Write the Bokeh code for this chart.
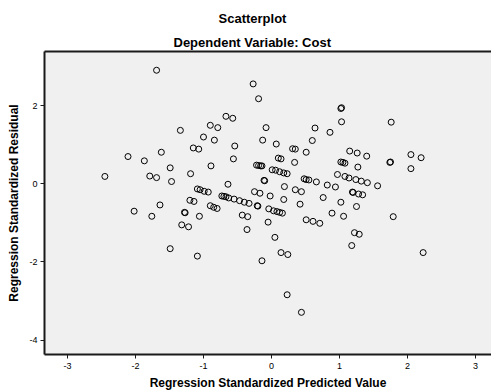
import math
from bokeh.plotting import figure
from bokeh.models import ColumnDataSource, Title, LinearAxis, FixedTicker, Range1d
from bokeh.embed import file_html
from bokeh.resources import INLINE

# Regression standardized predicted value (x) and residual (y)
pred = [
    -1.69, -1.34, -1.15, -1.07, -2.11, -1.62, -1.87, -1.49, -1.19, -2.45, -1.79, -1.69, -1.47,
    -1.09, -1.05, -0.99, -0.93, -1.20, -1.14, -1.64, -2.02, -1.76, -1.28, -1.27, -1.06,
    -1.32, -1.22, -1.49, -1.09,
    -0.27, -0.19, -0.67, -0.57, -0.90, -0.79, -0.08, -1.00, -0.84, -0.13, 0.07, -0.54,
    0.31, 0.35, -0.56, 0.10, 0.14, 0.34, -0.89, -0.22, -0.19, -0.16, -0.14,
    0.01, 0.06, 0.12, 0.18, 0.23, -0.11, -0.10, -0.64, 0.19, 0.35, 0.44, -0.25, -0.17, -0.02,
    -0.73, -0.70, -0.67, -0.63, -0.55, -0.47, -0.40, -0.33, -0.21, -0.20, 0.18,
    -0.04, 0.03, 0.08, 0.12, 0.16, 0.42, -0.90, -0.85, -0.80, -0.43, -0.35, -0.05, -0.36,
    0.05, 0.14, 0.24, -0.14, 0.23, 0.44,
    1.02, 1.03, 1.03, 1.76, 0.64, 0.86, 0.60, 0.51, 1.15, 1.26, 1.40, 1.02, 1.05, 1.08, 1.27,
    1.74, 1.75, 0.97, 0.48, 0.51, 0.55, 0.66, 1.08, 1.14, 1.24, 1.32, 1.41, 1.56, 0.82, 0.94,
    1.19, 1.20, 1.28, 1.34, 0.76, 1.02, 1.25, 0.89, 1.06, 0.51, 0.61, 0.71, 1.79, 1.22, 1.29, 1.18,
    2.05, 2.20, 2.05, 2.23,
]
resid = [
    2.91, 1.37, 0.92, 0.89, 0.70, 0.81, 0.59, 0.41, 0.26, 0.19, 0.20, 0.16, 0.06,
    -0.13, -0.15, -0.19, -0.21, -0.42, -0.45, -0.54, -0.70, -0.83, -0.73, -0.74, -0.83,
    -1.05, -1.10, -1.66, -1.85,
    2.56, 2.18, 1.73, 1.68, 1.50, 1.44, 1.44, 1.20, 1.12, 1.12, 1.02, 0.97,
    0.90, 0.89, 0.64, 0.66, 0.64, 0.55, 0.46, 0.48, 0.47, 0.46, 0.46,
    0.36, 0.35, 0.31, 0.28, 0.26, 0.09, 0.08, -0.01, -0.07, -0.15, -0.20, -0.20, -0.24, -0.31,
    -0.31, -0.32, -0.33, -0.36, -0.39, -0.43, -0.47, -0.50, -0.56, -0.57, -0.40,
    -0.64, -0.69, -0.71, -0.73, -0.75, -0.52, -0.56, -0.60, -0.63, -0.80, -0.84, -0.98, -1.17,
    -1.37, -1.76, -1.81, -1.97, -2.84, -3.29,
    1.93, 1.95, 1.59, 1.58, 1.43, 1.32, 1.11, 0.81, 0.84, 0.79, 0.71, 0.56, 0.55, 0.53, 0.43,
    0.55, 0.56, 0.24, 0.13, 0.11, 0.10, 0.05, 0.19, 0.15, 0.11, 0.07, 0.03, -0.05, -0.03, -0.08,
    -0.21, -0.22, -0.26, -0.28, -0.35, -0.47, -0.58, -0.75, -0.83, -0.92, -0.96, -1.01, -0.84, -1.25, -1.29, -1.58,
    0.75, 0.67, 0.39, -1.76,
]
x_ticks = [-3, -2, -1, 0, 1, 2, 3]
y_ticks = [-4, -2, 0, 2]

title_text = "Scatterplot"
subtitle_text = "Dependent Variable: Cost"
x_label = "Regression Standardized Predicted Value"
y_label = "Regression Standardized Residual"

FONT = "Liberation Sans"

src = ColumnDataSource(data=dict(x=pred, y=resid))

p = figure(width=491, height=392, output_backend="svg", toolbar_location=None,
           x_range=Range1d(-3.338, 3.235), y_range=Range1d(-4.37, 3.39),
           min_border_left=44, min_border_right=0, min_border_top=51, min_border_bottom=37,
           background_fill_color="#f0f0f0", border_fill_color="white")
p.outline_line_color = None
p.grid.visible = False

p.scatter(x="x", y="y", source=src, size=6, fill_color=None,
          line_color="black", line_width=1)

for ax, ticks in ((p.xaxis[0], x_ticks), (p.yaxis[0], y_ticks)):
    ax.ticker = FixedTicker(ticks=ticks)
    ax.major_label_overrides = {t: str(t) for t in ticks}
    ax.major_tick_out = 4
    ax.major_tick_in = 0
    ax.minor_tick_out = 0
    ax.minor_tick_in = 0
    ax.axis_line_width = 2
    ax.axis_line_color = "#1a1a1a"
    ax.major_tick_line_color = "#1a1a1a"
    ax.major_label_text_font = FONT
    ax.major_label_text_font_size = "9px"
    ax.major_label_text_color = "black"
    ax.axis_label_text_font = FONT
    ax.axis_label_text_font_size = "12px"
    ax.axis_label_text_font_style = "bold"
    ax.axis_label_text_color = "black"
p.xaxis.major_label_standoff = 4
p.yaxis.major_label_standoff = 3
p.xaxis.axis_label = x_label
p.yaxis.axis_label = y_label
p.xaxis.axis_label_standoff = 4
p.yaxis.axis_label_standoff = 5

top = LinearAxis(ticker=FixedTicker(ticks=[]), axis_line_width=2, axis_line_color="#1a1a1a",
                 major_tick_out=0, major_tick_in=0, minor_tick_out=0, minor_tick_in=0,
                 major_label_text_font_size="0px")
p.add_layout(top, "above")

p.add_layout(Title(text=subtitle_text, align="left", offset=129, standoff=4,
                   text_font=FONT, text_font_size="13px", text_font_style="bold",
                   text_color="black"), "above")
p.add_layout(Title(text=title_text, align="left", offset=174, standoff=9,
                   text_font=FONT, text_font_size="13px", text_font_style="bold",
                   text_color="black"), "above")

open("out.html", "w").write(file_html(p, INLINE))
